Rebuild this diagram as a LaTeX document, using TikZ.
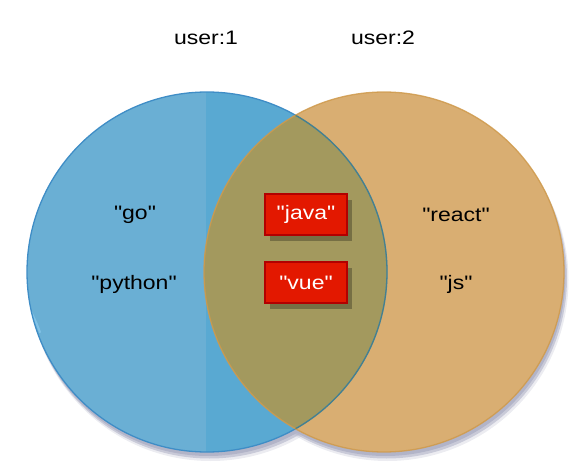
\documentclass[tikz,border=0pt]{standalone}
\usepackage{fontspec}
\setmainfont{Liberation Sans}[Ligatures=TeXOff]
\usetikzlibrary{shadows}
\definecolor{blueL}{HTML}{6AAFD4}
\definecolor{blueR}{HTML}{59A9D2}
\definecolor{blueEdge}{HTML}{3F8DC6}
\definecolor{blueRim}{HTML}{86C6EA}
\definecolor{orangeF}{HTML}{D9AE72}
\definecolor{orangeEdge}{HTML}{CF9A4C}
\definecolor{orangeRim}{HTML}{EEC37F}
\definecolor{olive}{HTML}{A3995E}
\definecolor{redF}{HTML}{E31800}
\definecolor{redEdge}{HTML}{B20000}
\definecolor{shadowC}{HTML}{B2B4C8}
\tikzset{
  lbl/.style={font=\fontsize{19.5}{22}\selectfont, xscale=1.18, text=black, inner sep=0pt},
  redbox/.style={draw=redEdge, line width=1.6pt, fill=redF, text=white,
    minimum width=82pt, minimum height=41pt, inner sep=0pt,
    font=\fontsize{19.5}{22}\selectfont,
    drop shadow={shadow xshift=4.5pt, shadow yshift=-6pt, fill=black, opacity=0.27}},
}
\begin{document}
\begin{tikzpicture}[x=1pt,y=-1pt]
\useasboundingbox (0,0) rectangle (584,473);
% shadows of circles
\fill[shadowC, opacity=0.25] (210.5,280) circle (181);
\fill[shadowC, opacity=0.25] (387.5,280) circle (181);
\fill[shadowC, opacity=0.6] (209.5,278) circle (180.5);
\fill[shadowC, opacity=0.6] (386.5,278) circle (180.5);
\fill[shadowC] (208.5,276) circle (180);
\fill[shadowC] (385.5,276) circle (180);
% left circle
\begin{scope}
  \clip (207,272) circle (180);
  \fill[blueL] (20,80) rectangle (206,460);
  \fill[blueR] (206,80) rectangle (400,460);
  \draw[blueRim, line width=2pt, opacity=0.8] (207,272) ++(160:177.5) arc (160:20:-177.5);
\end{scope}
% right circle
\begin{scope}
  \clip (384,272) circle (180);
  \fill[orangeF] (200,80) rectangle (570,460);
  \draw[orangeRim, line width=2pt, opacity=0.8] (384,272) ++(160:177.5) arc (160:20:-177.5);
\end{scope}
% overlap
\begin{scope}
  \clip (207,272) circle (180);
  \fill[olive] (384,272) circle (180);
\end{scope}
\draw[blueEdge, line width=1.3pt] (207,272) circle (180);
\draw[orangeEdge, line width=1.3pt, opacity=0.85] (384,272) circle (180);
\begin{scope}
  \clip (384,272) circle (180);
  \draw[olive!80!green!60!black, line width=1.3pt, opacity=0.35] (207,272) circle (180);
\end{scope}
% titles
\node[lbl] (u1) at (206,38) {user:1};
\node[lbl] (u2) at (383,38) {user:2};
% set members
\node[lbl] (go) at (135,215) {"go"};
\node[lbl] (py) at (134,284) {"python"};
\node[lbl] (react) at (456,215) {"react"};
\node[lbl] (js) at (456,284) {"js"};
\node[redbox] (java) at (306,214.5) {\scalebox{1.18}[1]{"java"}};
\node[redbox] (vue) at (306,282.5) {\scalebox{1.18}[1]{"vue"}};
\end{tikzpicture}
\end{document}
